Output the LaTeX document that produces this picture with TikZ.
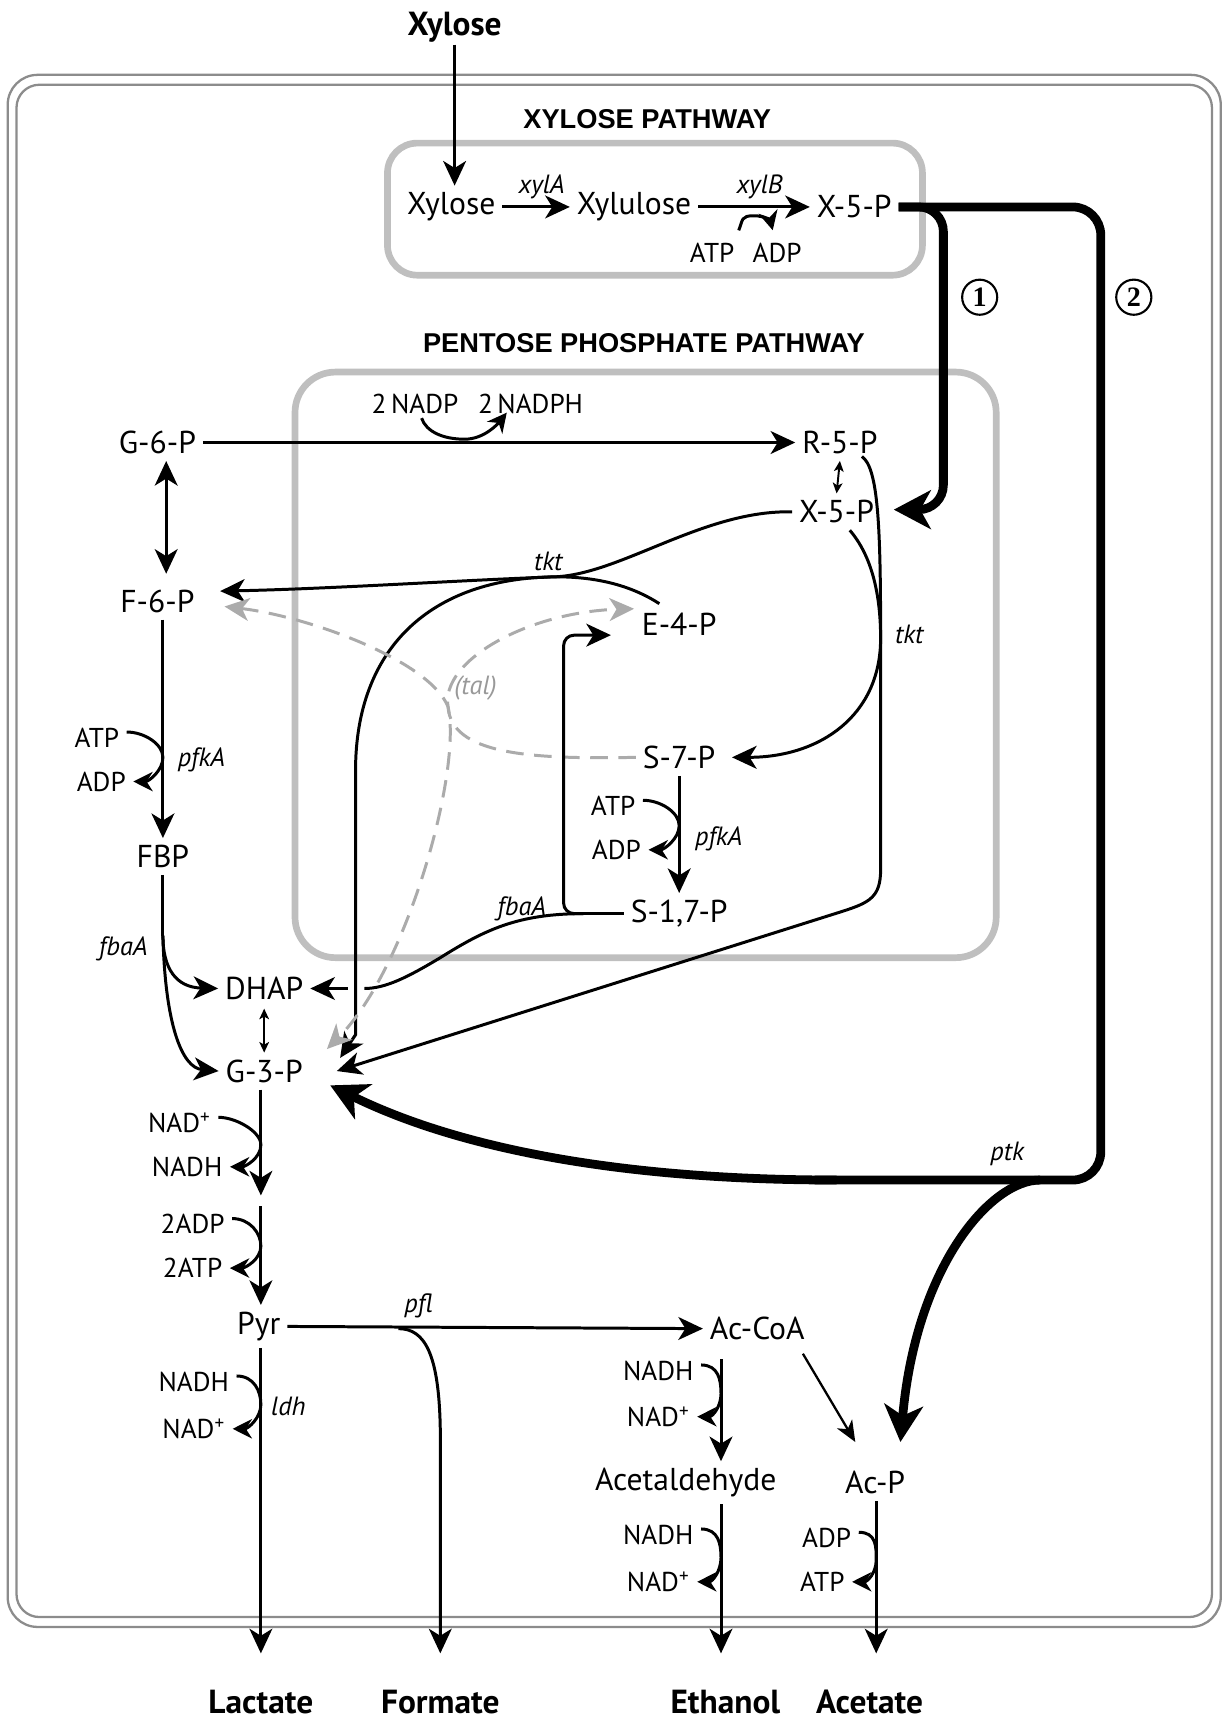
\documentclass[tikz,border=0pt]{standalone}
\usepackage{fontspec}
\setmainfont{PT Sans}
\newfontfamily\headfont{Liberation Sans}
\newfontfamily\numfont{Liberation Serif}
\usetikzlibrary{arrows.meta}

\tikzset{
  met/.style={font=\fontsize{18}{20}\selectfont, inner sep=1pt, outer sep=3pt},
  cof/.style={font=\fontsize{15.5}{17}\selectfont, inner sep=1pt},
  enz/.style={font=\fontsize{15}{17}\selectfont\itshape, inner sep=1pt},
  prod/.style={font=\fontsize{19}{21}\selectfont\bfseries, inner sep=1pt},
  head/.style={font=\fontsize{15.5}{17}\selectfont\headfont\bfseries, inner sep=1pt},
  num/.style={circle, draw, line width=1.2pt, inner sep=2.4pt, font=\fontsize{16}{18}\selectfont\numfont\bfseries},
  link/.style={line width=1.7pt},
  rxn/.style={line width=1.7pt, -{Stealth[length=14pt,width=13pt,inset=4pt]}},
  rxnboth/.style={line width=1.7pt, {Stealth[length=14pt,width=13pt,inset=4pt]}-{Stealth[length=14pt,width=13pt,inset=4pt]}},
  rev/.style={line width=1.1pt, {Stealth[length=6pt,width=5.5pt,inset=1.5pt]}-{Stealth[length=6pt,width=5.5pt,inset=1.5pt]}},
  cofrxn/.style={line width=1.7pt, -{Stealth[length=11pt,width=11pt,inset=3.5pt]}},
  thinrxn/.style={line width=1.3pt, -{Stealth[length=12pt,width=10pt,inset=3.5pt]}},
  tal/.style={line width=1.7pt, draw=black!33, dash pattern=on 10pt off 6pt},
  big/.style={line width=5pt},
  bigrxn/.style={line width=5pt, -{Stealth[length=21pt,width=22pt,inset=6pt]}},
  pathbox/.style={draw=black!25, line width=3.8pt},
  cellwall/.style={draw=black!45, line width=1.3pt},
}

% cofactor arc beside a vertical arrow: top label, bottom label, line x, middle y
\newcommand{\cofarc}[4]{%
  \draw[cofrxn] ([shift={(5,-5)}]#1.east) .. controls +(16,0) and +(0,-12) .. (#3,#4)
    .. controls +(0,12) and +(14,0) .. ([shift={(5,0)}]#2.east);}

\begin{document}
\begin{tikzpicture}[x=0.022014cm, y=-0.022014cm]
\useasboundingbox (0,0) rectangle (1112,1568);

%% Cell and pathway boxes %%
\draw[cellwall, rounded corners=17pt] (7,68) rectangle (1109,1478);
\draw[cellwall, rounded corners=13pt] (15,77) rectangle (1101,1469);
\draw[pathbox, rounded corners=17pt] (352,130) rectangle (838,250);
\draw[pathbox, rounded corners=23pt] (268,338) rectangle (905,870);

\node[head] (xphead) at (588,108) {XYLOSE PATHWAY};
\node[head] (ppphead) at (585,312) {PENTOSE PHOSPHATE PATHWAY};

%% Metabolites %%
\node[prod] (xylin) at (413,25) {Xylose};
\node[met] (xyl) at (410,188) {Xylose};
\node[met] (xlu) at (576,188) {Xylulose};
\node[met] (x5pa) at (776,188) {X-5-P};

\node[met] (g6p) at (143,402) {G-6-P};
\node[met] (r5p) at (763,402) {R-5-P};
\node[met] (x5pb) at (760,465) {X-5-P};
\node[met] (f6p) at (143,546) {F-6-P};
\node[met] (e4p) at (617,567) {E-4-P};
\node[met] (s7p) at (617,688) {S-7-P};
\node[met] (s17p) at (617,830) {S-1,7-P};
\node[met] (fbp) at (148,778) {FBP};
\node[met] (dhap) at (240,898) {DHAP};
\node[met] (g3p) at (240,973) {G-3-P};
\node[met] (pyr) at (235,1205) {Pyr};
\node[met] (accoa) at (688,1207) {Ac-CoA};
\node[met] (acald) at (623,1347) {Acetaldehyde};
\node[met] (acp) at (795,1347) {Ac-P};

\node[prod] (lac) at (237,1546) {Lactate};
\node[prod] (form) at (400,1546) {Formate};
\node[prod] (eth) at (659,1546) {Ethanol};
\node[prod] (acet) at (790,1546) {Acetate};

%% Enzymes %%
\node[enz] (xylA) at (492,170) {xylA};
\node[enz] (xylB) at (690,170) {xylB};
\node[enz] (tktA) at (498,510) {tkt};
\node[enz] (tktB) at (826,576) {tkt};
\node[enz, text=black!40] (talx) at (432,625) {(tal)};
\node[enz] (pfkA) at (183,690) {pfkA};
\node[enz] (pfkB) at (653,762) {pfkA};
\node[enz] (fbaA) at (112,862) {fbaA};
\node[enz] (fbaB) at (474,826) {fbaA};
\node[enz] (pfl) at (380,1186) {pfl};
\node[enz] (ldh) at (262,1278) {ldh};
\node[enz] (ptk) at (915,1048) {ptk};

\node[num] (one) at (890,270) {1};
\node[num] (two) at (1030,270) {2};

%% Cofactors %%
\node[cof] (atp0) at (647,230) {ATP};
\node[cof] (adp0) at (706,230) {ADP};
\node[cof] (nadp) at (377,367) {2\,NADP};
\node[cof] (nadph) at (482,367) {2\,NADPH};
\node[cof] (atp1) at (88,670) {ATP};
\node[cof] (adp1) at (92,710) {ADP};
\node[cof] (atp2) at (557,732) {ATP};
\node[cof] (adp2) at (560,772) {ADP};
\node[cof] (nad1) at (163,1020) {NAD\textsuperscript{+}};
\node[cof] (nadh1) at (170,1060) {NADH};
\node[cof] (adp3) at (175,1112) {2ADP};
\node[cof] (atp3) at (175,1152) {2ATP};
\node[cof] (nadh2) at (176,1255) {NADH};
\node[cof] (nad2) at (176,1298) {NAD\textsuperscript{+}};
\node[cof] (nadh3) at (598,1245) {NADH};
\node[cof] (nad3) at (598,1287) {NAD\textsuperscript{+}};
\node[cof] (nadh4) at (598,1394) {NADH};
\node[cof] (nad4) at (598,1437) {NAD\textsuperscript{+}};
\node[cof] (adp5) at (751,1397) {ADP};
\node[cof] (atp5) at (747,1437) {ATP};

%% Arrow ends %%
\coordinate (x5pbin) at (812,463);
\coordinate (f6pin) at (200,537);
\coordinate (f6pgray) at (204,551);
\coordinate (e4pin) at (555,577);
\coordinate (e4pgray) at (576,553);
\coordinate (s7pin) at (665,688);
\coordinate (g3pA) at (297,953);
\coordinate (g3pB) at (309,961);
\coordinate (g3pC) at (306,973);
\coordinate (g3pD) at (300,986);
\coordinate (acpin) at (818,1310);
\coordinate (acpin2) at (777,1310);
\coordinate (lacin) at (237,1502);
\coordinate (formin) at (400,1502);
\coordinate (ethin) at (655,1502);
\coordinate (acetin) at (796,1502);
\coordinate (gp1) at (237,1086);
\coordinate (gp2) at (237,1096);
\coordinate (acx) at (655,1235);

%% Xylose pathway %%
\draw[rxn] (xylin.south) -- (xylin.south |- xyl.north);
\draw[rxn] (xyl.east) -- (xlu.west);
\draw[rxn] (xlu.east) -- (x5pa.west);
\draw[cofrxn] ([shift={(2,-10)}]atp0.north east) .. controls +(4,-10) and +(-12,0) .. (685,196)
  .. controls +(10,0) and +(-2,-8) .. ([shift={(-4,-10)}]adp0.north);

%% Routes 1 and 2 %%
\draw[big, rounded corners=16pt] (x5pa.east) -- (1000,188) -- (1000,1072) -- (740,1072);
\draw[bigrxn] (760,1072) .. controls (570,1072) and (420,1045) .. (g3pD);
\draw[bigrxn] (945,1072) .. controls (900,1072) and (832,1150) .. (acpin);
\draw[bigrxn, rounded corners=14pt] (x5pa.east) -- (857,188) -- (857,463) -- (x5pbin);

%% Pentose phosphate pathway %%
\draw[rxn] (g6p.east) -- (r5p.west);
\draw[cofrxn] ([shift={(6,2)}]nadp.south) .. controls +(4,12) and +(-20,0) .. (422,399)
  .. controls +(18,0) and +(-8,10) .. ([shift={(28,-3)}]nadph.south west);
\draw[rev] (r5p.south) -- (x5pb.north);
\draw[rxnboth, shorten >=5pt] ([xshift=5]g6p.south) -- ([xshift=5]f6p.north);

% tkt: X-5-P + E-4-P
\coordinate (tktJ) at (505,524);
\draw[rxn] (x5pb.west) .. controls (640,463) and (565,521) .. (tktJ) .. controls (420,527) and (300,535) .. (f6pin);
\draw[rxn] ([shift={(-18,-2)}]e4p.north) .. controls (575,533) and (545,524) .. (tktJ)
  .. controls (390,525) and (323,590) .. (323,700) -- (323,940) -- (g3pB);

% tkt: X-5-P + R-5-P
\coordinate (tktK) at (800,580);
\draw[rxn] ([shift={(12,0)}]x5pb.south) .. controls (792,505) and (800,540) .. (tktK)
  .. controls (800,650) and (745,688) .. (s7pin);
\draw[rxn] ([shift={(20,-4)}]r5p.south) .. controls (798,425) and (800,480) .. (tktK) -- (800,790)
  .. controls (800,815) and (790,820) .. (765,828) -- (g3pC);

% tal (dashed)
\coordinate (talJ) at (407,642);
\draw[tal, {Stealth[length=14pt,width=13pt,inset=4pt]}-{Stealth[length=14pt,width=13pt,inset=4pt]}]
  (f6pgray) .. controls (280,560) and (390,600) .. (talJ) .. controls (420,700) and (370,880) .. (g3pA);
\draw[tal, -{Stealth[length=14pt,width=13pt,inset=4pt]}]
  (s7p.west) .. controls (480,690) and (410,685) .. (talJ) .. controls (400,600) and (480,556) .. (e4pgray);

% pfkA and fbaA on S-7-P
\draw[rxn] (s7p.south) -- (s17p.north);
\cofarc{atp2}{adp2}{617}{750}
\coordinate (fbaJ) at (530,830);
\draw[link] (s17p.west) -- (fbaJ);
\draw[rxn, rounded corners=6pt] (fbaJ) -- (512,830) -- (512,577) -- (e4pin);
\draw[link] (fbaJ) .. controls (470,830) and (440,845) .. (400,870) .. controls (370,888) and (350,898) .. (331,898);
\draw[rxn] (316,898) -- (dhap.east);

%% Glycolysis %%
\draw[rxn] (f6p.south -| fbp) -- (fbp.north);
\cofarc{atp1}{adp1}{148}{688}
\coordinate (fbaK) at (148,850);
\draw[link] (fbp.south) -- (fbaK);
\draw[rxn] (fbaK) .. controls (148,880) and (160,897) .. (dhap.west);
\draw[rxn] (fbaK) .. controls (150,930) and (165,970) .. (g3p.west);
\draw[rev, shorten <=1pt] (dhap.south) -- (g3p.north);

\draw[rxn] (g3p.south -| gp1) -- (gp1);
\cofarc{nad1}{nadh1}{237}{1040}
\draw[rxn] (gp2) -- (gp2 |- pyr.north);
\cofarc{adp3}{atp3}{237}{1132}

%% Fermentation %%
\draw[rxn] (pyr.east) -- (accoa.west);
\coordinate (pflJ) at (362,1207);
\draw[rxn] (pflJ) .. controls (386,1207) and (399,1230) .. (400,1300) -- (formin);
\draw[rxn] (lacin |- pyr.south) -- (lacin);
\cofarc{nadh2}{nad2}{237}{1276}

\draw[rxn] (acx) -- (acx |- acald.north);
\cofarc{nadh3}{nad3}{655}{1266}
\draw[thinrxn] ([shift={(-8,6)}]accoa.south east) -- (acpin2);
\draw[rxn] (ethin |- acald.south) -- (ethin);
\cofarc{nadh4}{nad4}{655}{1415}
\draw[rxn] (acetin |- acp.south) -- (acetin);
\cofarc{adp5}{atp5}{796}{1417}

\end{tikzpicture}
\end{document}
